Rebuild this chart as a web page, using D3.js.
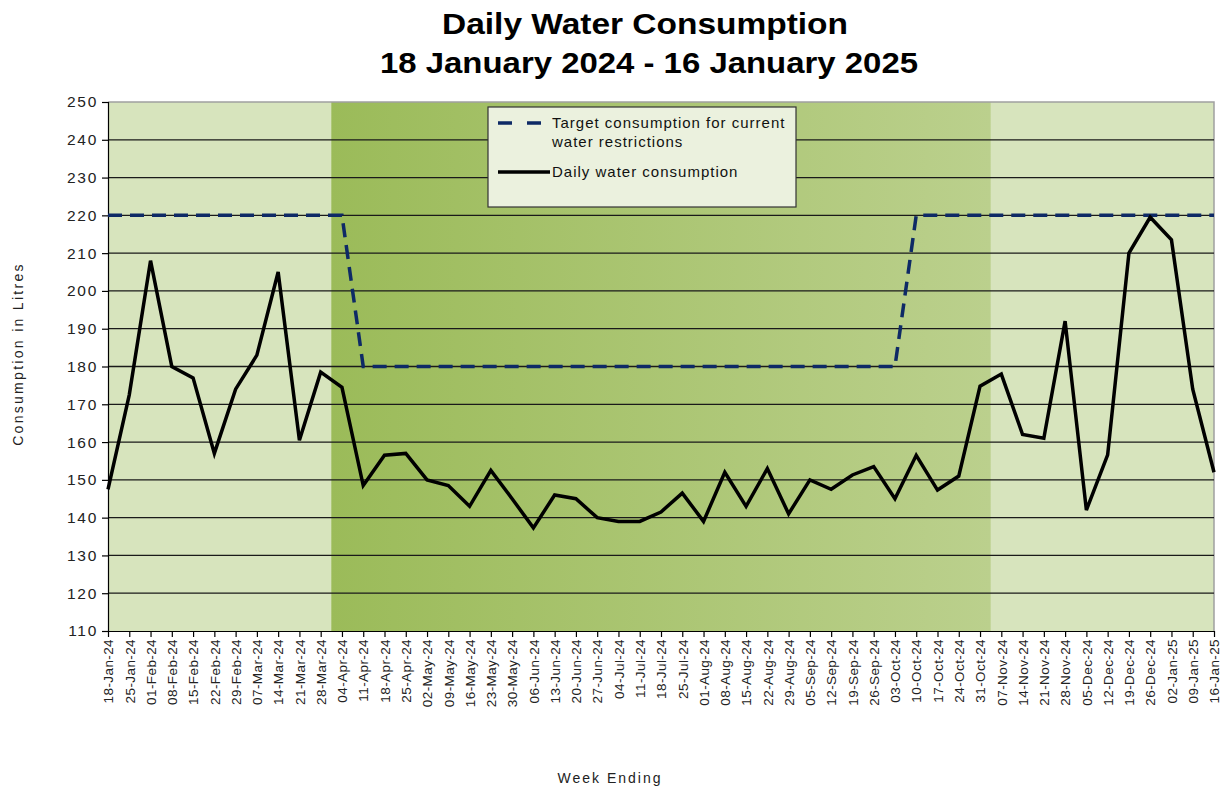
<!DOCTYPE html>
<html>
<head>
<meta charset="utf-8">
<script src="https://cdn.jsdelivr.net/npm/d3@7"></script>
<style>
  body { margin: 0; background: #fff; }
  text { font-family: Arial, "Liberation Sans", sans-serif; }
</style>
</head>
<body>
<div id="chart"></div>
<script>
// week ending labels
var weeks = ["18-Jan-24","25-Jan-24","01-Feb-24","08-Feb-24","15-Feb-24","22-Feb-24","29-Feb-24",
  "07-Mar-24","14-Mar-24","21-Mar-24","28-Mar-24","04-Apr-24","11-Apr-24","18-Apr-24","25-Apr-24",
  "02-May-24","09-May-24","16-May-24","23-May-24","30-May-24","06-Jun-24","13-Jun-24","20-Jun-24",
  "27-Jun-24","04-Jul-24","11-Jul-24","18-Jul-24","25-Jul-24","01-Aug-24","08-Aug-24","15-Aug-24",
  "22-Aug-24","29-Aug-24","05-Sep-24","12-Sep-24","19-Sep-24","26-Sep-24","03-Oct-24","10-Oct-24",
  "17-Oct-24","24-Oct-24","31-Oct-24","07-Nov-24","14-Nov-24","21-Nov-24","28-Nov-24","05-Dec-24",
  "12-Dec-24","19-Dec-24","26-Dec-24","02-Jan-25","09-Jan-25","16-Jan-25"];

var consumption = [147.5, 172.5, 208, 180, 177, 157, 174, 183, 205, 160.5, 178.5, 174.5,
  148.5, 156.5, 157, 150, 148.5, 143, 152.5, 145, 137.3, 146, 145, 140, 139, 139,
  141.5, 146.5, 139, 152, 143, 153, 141, 150, 147.5, 151.3, 153.5, 145, 156.5, 147.3,
  151, 174.8, 178, 162, 161, 192, 142, 156.6, 210, 219.5, 213.5, 174, 152];

var target = [220, 220, 220, 220, 220, 220, 220, 220, 220, 220, 220, 220,
  180, 180, 180, 180, 180, 180, 180, 180, 180, 180, 180, 180, 180, 180,
  180, 180, 180, 180, 180, 180, 180, 180, 180, 180, 180, 180, 220, 220,
  220, 220, 220, 220, 220, 220, 220, 220, 220, 220, 220, 220, 220];

var yTicks = d3.range(110, 251, 10);

// restriction period: 04-Apr-24 to 31-Oct-24
var restrictStart = "04-Apr-24", restrictEnd = "31-Oct-24";

var W = 1229, H = 789;
var margin = {left: 108, right: 15, top: 102, bottom: 158};

var svg = d3.select("#chart").append("svg")
  .attr("width", W).attr("height", H);

var x = d3.scalePoint().domain(weeks).range([margin.left, W - margin.right]);
var y = d3.scaleLinear().domain([110, 250]).range([H - margin.bottom, margin.top]);
var step = x.step();

var defs = svg.append("defs");
var grad = defs.append("linearGradient").attr("id", "restrictGrad")
  .attr("x1", "0%").attr("x2", "100%").attr("y1", "0%").attr("y2", "0%");
grad.append("stop").attr("offset", "0%").attr("stop-color", "#9bbb59");
grad.append("stop").attr("offset", "100%").attr("stop-color", "#bbd08d");

// light background
svg.append("rect")
  .attr("x", margin.left).attr("y", margin.top)
  .attr("width", W - margin.right - margin.left)
  .attr("height", y(110) - y(250))
  .attr("fill", "#d7e4bd");

var bx0 = x(restrictStart) - step / 2, bx1 = x(restrictEnd) + step / 2;
svg.append("rect")
  .attr("x", bx0).attr("y", margin.top)
  .attr("width", bx1 - bx0).attr("height", y(110) - y(250))
  .attr("fill", "url(#restrictGrad)");

// plot border (top/right)
svg.append("path")
  .attr("d", "M" + margin.left + "," + margin.top + "H" + (W - margin.right) + "V" + y(110))
  .attr("fill", "none").attr("stroke", "#a0a0a0").attr("stroke-width", 1.5);

// gridlines
svg.append("g").selectAll("line")
  .data(yTicks.filter(function(d) { return d > 110 && d < 250; }))
  .enter().append("line")
  .attr("x1", margin.left).attr("x2", W - margin.right)
  .attr("y1", function(d) { return y(d); }).attr("y2", function(d) { return y(d); })
  .attr("stroke", "#1a1a1a").attr("stroke-width", 1.3);

// y axis
var yAxis = svg.append("g")
  .attr("transform", "translate(" + margin.left + ",0)")
  .call(d3.axisLeft(y).tickValues(yTicks).tickSize(6).tickPadding(4));
yAxis.selectAll("text").attr("font-size", 15.5).attr("fill", "#222")
  .style("letter-spacing", "1.7px")
  .style("font-family", "Arial, 'Liberation Sans', sans-serif");
yAxis.selectAll("line, path").attr("stroke", "#000").attr("stroke-width", 1.2);

// x axis
var xAxis = svg.append("g")
  .attr("transform", "translate(0," + y(110) + ")")
  .call(d3.axisBottom(x).tickSize(6).tickSizeOuter(0));
xAxis.select(".domain").attr("stroke", "#000").attr("stroke-width", 1.2);
xAxis.selectAll("line").attr("stroke", "#000").attr("stroke-width", 1.2);
xAxis.selectAll("text")
  .attr("transform", "rotate(-90)")
  .attr("text-anchor", "end")
  .attr("x", -8).attr("y", 0).attr("dy", "0.35em")
  .attr("font-size", 13.5).attr("fill", "#222")
  .style("letter-spacing", "0.4px")
  .style("font-family", "Arial, 'Liberation Sans', sans-serif");

// target line
svg.append("path")
  .datum(target)
  .attr("fill", "none")
  .attr("stroke", "#0e2a66")
  .attr("stroke-width", 3.5)
  .attr("stroke-dasharray", "14,8")
  .attr("d", d3.line().x(function(d, i) { return x(weeks[i]); }).y(function(d) { return y(d); }));

// consumption line
svg.append("path")
  .datum(consumption)
  .attr("fill", "none")
  .attr("stroke", "#000")
  .attr("stroke-width", 3.5)
  .attr("stroke-linejoin", "miter")
  .attr("d", d3.line().x(function(d, i) { return x(weeks[i]); }).y(function(d) { return y(d); }));

// legend
var lg = svg.append("g").attr("transform", "translate(488,107)");
lg.append("rect").attr("width", 308).attr("height", 100)
  .attr("fill", "#ebf1de").attr("stroke", "#333").attr("stroke-width", 1.2);
lg.append("line").attr("x1", 10).attr("x2", 57).attr("y1", 16).attr("y2", 16)
  .attr("stroke", "#0e2a66").attr("stroke-width", 3.5).attr("stroke-dasharray", "14,15");
var legendText = [["Target consumption for current", 21], ["water restrictions", 40], ["Daily water consumption", 70]];
lg.selectAll("text.lt").data(legendText).enter().append("text")
  .attr("class", "lt")
  .attr("x", 64).attr("y", function(d) { return d[1]; })
  .attr("font-size", 15).attr("fill", "#111")
  .style("letter-spacing", "1px")
  .text(function(d) { return d[0]; });
lg.append("line").attr("x1", 10).attr("x2", 62).attr("y1", 65).attr("y2", 65)
  .attr("stroke", "#000").attr("stroke-width", 3.5);

// titles
svg.append("text").attr("x", 645).attr("y", 34).attr("text-anchor", "middle")
  .attr("font-size", 29).attr("font-weight", "bold")
  .attr("textLength", 406).attr("lengthAdjust", "spacingAndGlyphs")
  .text("Daily Water Consumption");
svg.append("text").attr("x", 649).attr("y", 73).attr("text-anchor", "middle")
  .attr("font-size", 29).attr("font-weight", "bold")
  .attr("textLength", 538).attr("lengthAdjust", "spacingAndGlyphs")
  .text("18 January 2024 - 16 January 2025");

svg.append("text")
  .attr("transform", "translate(23,354) rotate(-90)")
  .attr("text-anchor", "middle").attr("font-size", 14).attr("fill", "#222")
  .style("letter-spacing", "2.3px")
  .text("Consumption in Litres");
svg.append("text").attr("x", 610).attr("y", 783).attr("text-anchor", "middle")
  .attr("font-size", 14).attr("fill", "#222")
  .style("letter-spacing", "2px")
  .text("Week Ending");
</script>
</body>
</html>
